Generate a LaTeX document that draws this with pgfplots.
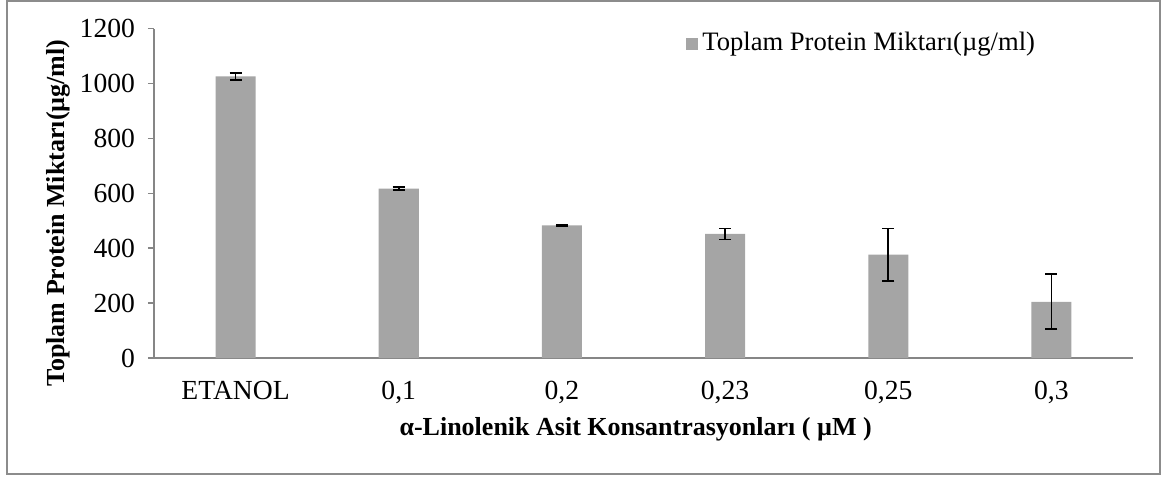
\documentclass[border=0pt]{standalone}
\usepackage{fontspec}
\setmainfont{Liberation Serif}
\usepackage{pgfplots}
\usepackage{pgfplotstable}
\pgfplotsset{compat=1.18}
\definecolor{barc}{HTML}{A5A5A5}
\definecolor{axc}{HTML}{868686}
\definecolor{framec}{HTML}{8C8C8C}
\pgfplotstableread{
x y e
0 1026 14
1 617 6
2 483 2
3 452 20
4 377 95
5 205 100
}\datatable
\newcommand{\chartfont}{\fontsize{13}{15.6}\selectfont}
\newcommand{\tickfont}{\fontsize{13.8}{16.5}\selectfont}
\newcommand{\legfont}{\fontsize{13.3}{16}\selectfont}
\begin{document}
\chartfont
\begin{tikzpicture}
\useasboundingbox (-77pt,-60.5pt) rectangle (506pt,179pt);
\draw[framec, line width=0.75pt] (-73.5pt,178.5pt) rectangle (503pt,-58pt);
\begin{axis}[
  at={(0pt,0pt)}, anchor=south west,
  scale only axis, width=489.5pt, height=164.65pt,
  xmin=-0.5, xmax=5.5, ymin=0, ymax=1200,
  axis x line=bottom, axis y line=left,
  axis line style={-, axc, line width=0.75pt},
  ytick={0,200,...,1200},
  xtick={0,1,2,3,4,5},
  xticklabels={ETANOL,{0,1},{0,2},{0,23},{0,25},{0,3}},
  x tick style={draw=none},
  y tick style={axc, line width=0.75pt},
  tick align=outside, major tick length=3pt,
  /pgf/number format/1000 sep={},
  /pgf/number format/assume math mode=true,
  ticklabel style={font=\tickfont},
  yticklabel style={anchor=east, xshift=-2pt},
  xticklabel style={anchor=base, yshift=-17.5pt},
  ylabel={\textbf{Toplam Protein Miktarı(µg/ml)}},
  ylabel style={font=\chartfont, at={(axis description cs:-0.098,0.44)}, anchor=center},
  xlabel={\textbf{α-Linolenik Asit Konsantrasyonları ( µM )}},
  xlabel style={font=\chartfont, at={(axis description cs:0.492,-0.216)}, anchor=center},
  legend style={draw=none, fill=none, font=\legfont,
    at={(axis description cs:0.5434,0.955)}, anchor=west, inner sep=0pt},
  legend image code/.code={\fill[barc] (0pt,-3pt) rectangle (6pt,3pt);},
  clip=false,
]
\addplot[ybar, bar width=20pt, fill=barc, draw=none, bar shift=0pt,
  error bars/.cd, y dir=both, y explicit,
  error bar style={black, line width=0.9pt},
  error mark options={rotate=90, mark size=3pt, line width=0.9pt, black}]
  table[x=x, y=y, y error=e] {\datatable};
\addlegendentry{Toplam Protein Miktarı(µg/ml)}
\end{axis}
\end{tikzpicture}
\end{document}
